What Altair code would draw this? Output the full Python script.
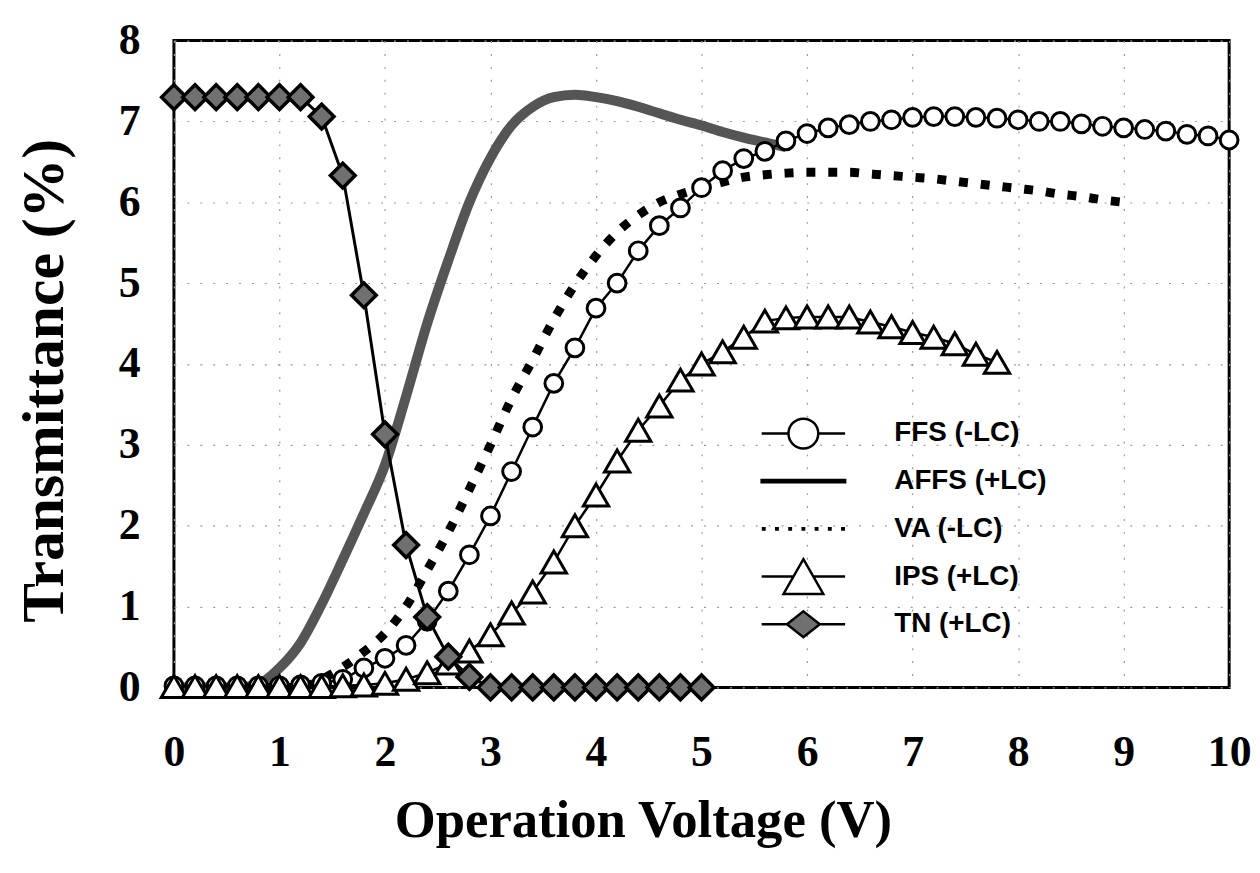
import altair as alt
import pandas as pd

# ---------------- data ----------------
ORDER = ["FFS (-LC)", "AFFS (+LC)", "VA (-LC)", "IPS (+LC)", "TN (+LC)"]
X_TICKS = [0, 1, 2, 3, 4, 5, 6, 7, 8, 9, 10]
Y_TICKS = [0, 1, 2, 3, 4, 5, 6, 7, 8]

FFS_T = [0.02, 0.02, 0.02, 0.02, 0.02, 0.02, 0.03, 0.05, 0.10, 0.24,
         0.36, 0.52, 0.82, 1.19, 1.64, 2.12, 2.67, 3.22, 3.76, 4.20,
         4.69, 5.00, 5.40, 5.71, 5.93, 6.18, 6.39, 6.54, 6.63, 6.76,
         6.85, 6.92, 6.96, 7.00, 7.02, 7.05, 7.06, 7.06, 7.05, 7.04,
         7.02, 7.00, 7.00, 6.97, 6.94, 6.92, 6.90, 6.88, 6.84, 6.82, 6.77]
AFFS_T = [0.00, 0.00, 0.00, 0.00, 0.04, 0.24, 0.55, 1.03, 1.58, 2.15,
          2.75, 3.60, 4.50, 5.28, 6.00, 6.55, 6.95, 7.18, 7.30, 7.33,
          7.30, 7.25, 7.18, 7.10, 7.02, 6.95, 6.87, 6.80, 6.74, 6.68]
VA_T = [0.00, 0.00, 0.00, 0.00, 0.00, 0.00, 0.00, 0.10, 0.25, 0.44,
        0.67, 1.00, 1.45, 1.92, 2.45, 3.00, 3.57, 4.05, 4.55, 4.98,
        5.34, 5.63, 5.84, 6.00, 6.10, 6.18, 6.25, 6.31, 6.34, 6.36,
        6.37, 6.37, 6.37, 6.35, 6.33, 6.31, 6.29, 6.26, 6.23, 6.20,
        6.17, 6.14, 6.10, 6.07, 6.03, 6.00]
IPS_T = [0.01, 0.01, 0.01, 0.01, 0.01, 0.01, 0.01, 0.01, 0.02, 0.03,
         0.05, 0.10, 0.18, 0.30, 0.45, 0.65, 0.92, 1.18, 1.55, 2.00,
         2.38, 2.80, 3.18, 3.48, 3.80, 4.00, 4.15, 4.33, 4.53, 4.57,
         4.58, 4.58, 4.58, 4.52, 4.46, 4.39, 4.33, 4.25, 4.12, 4.02]
TN_T = [7.30, 7.30, 7.30, 7.30, 7.30, 7.30, 7.30, 7.06, 6.33, 4.85,
        3.13, 1.76, 0.87, 0.38, 0.13, 0.00, 0.00, 0.00, 0.00, 0.00,
        0.00, 0.00, 0.00, 0.00, 0.00, 0.00]


def volts(n):
    return [round(0.2 * i, 1) for i in range(n)]


def frame(name, ys):
    return pd.DataFrame({"V": volts(len(ys)), "T": ys, "series": name})


ffs = frame(ORDER[0], FFS_T)
affs = frame(ORDER[1], AFFS_T)
va = frame(ORDER[2], VA_T)
ips = frame(ORDER[3], IPS_T)
tn = frame(ORDER[4], TN_T)
alldata = pd.concat([ffs, affs, va, ips, tn], ignore_index=True)

# ---------------- encodings ----------------
SERIF = "Liberation Serif"
SANS = "Liberation Sans"
GRID = dict(grid=True, gridColor="#9a9a9a", gridDash=[2, 11], gridWidth=1.2)

x_enc = alt.X(
    "V:Q",
    scale=alt.Scale(domain=[0, 10], nice=False, zero=False),
    axis=alt.Axis(values=X_TICKS, title="Operation Voltage (V)", format="d",
                  ticks=False, domain=False, labelFlush=False,
                  labelFont=SERIF, labelFontWeight="bold", labelFontSize=44,
                  labelColor="black", labelPadding=44,
                  titleFont=SERIF, titleFontWeight="bold", titleFontSize=53,
                  titleColor="black", titlePadding=20, titleX=472, **GRID),
)
y_enc = alt.Y(
    "T:Q",
    scale=alt.Scale(domain=[0, 8], nice=False),
    axis=alt.Axis(values=Y_TICKS, title="Transmittance (%)", format="d",
                  ticks=False, domain=False,
                  labelFont=SERIF, labelFontWeight="bold", labelFontSize=44,
                  labelColor="black", labelPadding=34,
                  titleFont=SERIF, titleFontWeight="bold", titleFontSize=60,
                  titleColor="black", titlePadding=43, titleY=342, **GRID),
)

# ---------------- layers ----------------
affs_line = alt.Chart(affs).mark_line(
    color="#555555", strokeWidth=10, interpolate="monotone"
).encode(x=x_enc, y=y_enc)

va_line = alt.Chart(va).mark_line(
    color="black", strokeWidth=9, strokeDash=[9, 13], strokeCap="butt",
    interpolate="monotone"
).encode(x=x_enc, y=y_enc)

ffs_line = alt.Chart(ffs).mark_line(color="black", strokeWidth=2.5).encode(x=x_enc, y=y_enc)
ffs_pts = alt.Chart(ffs).mark_point(
    shape="circle", size=320, filled=True, fill="white", stroke="black",
    strokeWidth=3, opacity=1
).encode(x=x_enc, y=y_enc)

ips_line = alt.Chart(ips).mark_line(color="black", strokeWidth=2.5).encode(x=x_enc, y=y_enc)
ips_pts = alt.Chart(ips).mark_point(
    shape="triangle-up", size=650, filled=True, fill="white", stroke="black",
    strokeWidth=3, opacity=1
).encode(x=x_enc, y=y_enc)

tn_line = alt.Chart(tn).mark_line(color="black", strokeWidth=3).encode(x=x_enc, y=y_enc)
tn_pts = alt.Chart(tn).mark_point(
    shape="diamond", size=620, filled=True, fill="#707070", stroke="black",
    strokeWidth=3.5, opacity=1
).encode(x=x_enc, y=y_enc)

# legend symbols (custom paths in unit box, 1 unit = sqrt(symbolSize)/2 px);
# the leading moves give every entry the same height
EXTENT = "M0,-1.3M0,1.3"
dots = "".join("M%.2f,-0.05h0.1v0.1h-0.1Z" % (c - 0.05) for c in [-2.85, -1.9, -0.95, 0, 0.95, 1.9, 2.85])
LEG_PATHS = [
    EXTENT + "M-3,0H-1.07M1.07,0H3M1.07,0A1.07,1.07,0,1,1,-1.07,0A1.07,1.07,0,1,1,1.07,0Z",
    EXTENT + "M-3,-0.08H3V0.08H-3Z",
    EXTENT + dots,
    EXTENT + "M-3,0H-0.71M0.71,0H3M0,-1.25L1.43,1.25L-1.43,1.25Z",
    EXTENT + "M-3,0H-1.18M1.18,0H3M0,-0.93L1.18,0L0,0.93L-1.18,0Z",
]
LEG_FILLS = ["white", "black", "black", "white", "#707070"]
LEG_STROKES = ["black", "black", "black", "black", "black"]

leg = alt.Legend(title=None, orient="none", legendX=618, legendY=380,
                 symbolSize=784, symbolStrokeColor="black", symbolStrokeWidth=2.5,
                 symbolOpacity=1, labelFont=SANS, labelFontWeight="bold",
                 labelFontSize=28, labelColor="black", labelOffset=76,
                 rowPadding=1, labelLimit=400)

legend_layer = alt.Chart(alldata).mark_point(
    opacity=0, strokeWidth=2.5
).encode(
    x=x_enc, y=y_enc,
    shape=alt.Shape("series:N", scale=alt.Scale(domain=ORDER, range=LEG_PATHS), legend=leg),
    fill=alt.Fill("series:N", scale=alt.Scale(domain=ORDER, range=LEG_FILLS), legend=leg),
    stroke=alt.Stroke("series:N", scale=alt.Scale(domain=ORDER, range=LEG_STROKES), legend=leg),
)

chart = alt.layer(
    affs_line, va_line, ffs_line, ffs_pts, ips_line, ips_pts, tn_line, tn_pts, legend_layer
).properties(
    width=1062, height=651,
    autosize=alt.AutoSizeParams(type="none"),
    padding={"left": 167, "top": 30, "right": 23, "bottom": 176},
    background="white",
).configure_view(
    stroke="black", strokeWidth=3
)

chart.save("out.html", embed_options={"renderer": "svg", "actions": False})
